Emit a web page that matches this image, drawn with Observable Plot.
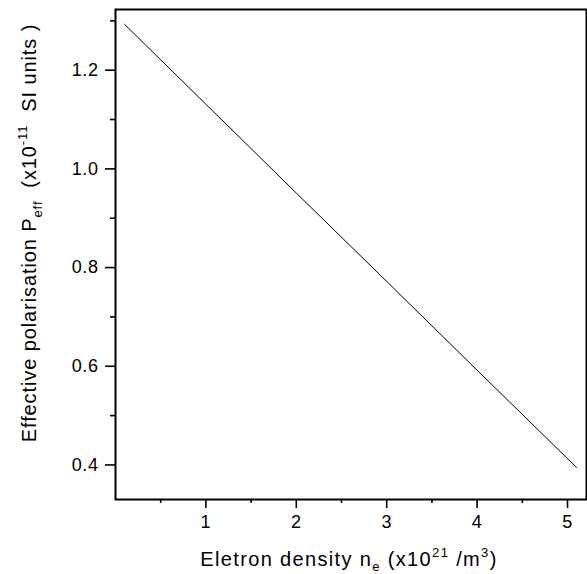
<!DOCTYPE html>
<html>
<head>
<meta charset="utf-8">
<script src="https://cdn.jsdelivr.net/npm/d3@7"></script>
<script src="https://cdn.jsdelivr.net/npm/@observablehq/plot@0.6"></script>
<style>
  html, body { margin: 0; padding: 0; background: white; }
</style>
</head>
<body>
<div id="chart"></div>
<script>
// Data
const density = [0.1, 1, 2, 3, 4, 5.1];                  // x10^21 /m^3
const polarisation = [1.293, 1.131, 0.951, 0.772, 0.592, 0.395]; // x10^-11 SI units

const xMajorTicks = [1, 2, 3, 4, 5];
const xMinorTicks = [0.5, 1.5, 2.5, 3.5, 4.5];
const yMajorTicks = [0.4, 0.6, 0.8, 1.0, 1.2];
const yMinorTicks = [0.5, 0.7, 0.9, 1.1, 1.3];

const data = density.map((d, i) => ({x: d, y: polarisation[i]}));

const fontFamily = "'Liberation Sans', Arial, Helvetica, sans-serif";

const svg = Plot.plot({
  width: 587,
  height: 574,
  marginLeft: 115,
  marginRight: 1,
  marginTop: 9,
  marginBottom: 75,
  style: {fontFamily, fontSize: "17px", color: "black", background: "white", overflow: "visible"},
  x: {domain: [0, 5.21]},
  y: {domain: [0.330, 1.323]},
  marks: [
    Plot.axisX(xMajorTicks, {tickSize: 9, tickPadding: 7, strokeWidth: 1.6, label: null, tickFormat: d => String(d)}),
    Plot.axisX(xMinorTicks, {tickSize: 4, strokeWidth: 1.6, label: null, tickFormat: () => ""}),
    Plot.axisY(yMajorTicks, {tickSize: 10, tickPadding: 7, strokeWidth: 1.6, label: null, tickFormat: d => d.toFixed(1)}),
    Plot.axisY(yMinorTicks, {tickSize: 5, strokeWidth: 1.6, label: null, tickFormat: () => ""}),
    Plot.line(data, {x: "x", y: "y", stroke: "black", strokeWidth: 1}),
    Plot.frame({stroke: "black", strokeWidth: 2})
  ]
});

const s = d3.select(svg);
// enlarge tick labels to match the reference
s.selectAll("text")
  .attr("font-size", 18)
  .style("font-size", "18px")
  .style("letter-spacing", "0.6px");

// Axis titles with sub/superscripts
const xl = s.append("text")
  .attr("x", 349).attr("y", 566)
  .attr("text-anchor", "middle")
  .attr("font-family", fontFamily)
  .attr("font-size", 20)
  .attr("letter-spacing", 1.35)
  .attr("fill", "black");
xl.append("tspan").text("Eletron density n");
xl.append("tspan").attr("font-size", 13).attr("dy", 5).text("e");
xl.append("tspan").attr("dy", -5).text(" (x10");
xl.append("tspan").attr("font-size", 13).attr("dy", -9).text("21");
xl.append("tspan").attr("dy", 9).text(" /m");
xl.append("tspan").attr("font-size", 13).attr("dy", -9).text("3");
xl.append("tspan").attr("dy", 9).text(")");

const yl = s.append("text")
  .attr("transform", "translate(36,233) rotate(-90)")
  .attr("text-anchor", "middle")
  .attr("font-family", fontFamily)
  .attr("font-size", 20)
  .attr("letter-spacing", 0.9)
  .attr("fill", "black");
yl.append("tspan").text("Effective polarisation P");
yl.append("tspan").attr("font-size", 13).attr("dy", 6).text("eff");
yl.append("tspan").attr("dy", -6).text("  (x10");
yl.append("tspan").attr("font-size", 13).attr("dy", -9).text("-11");
yl.append("tspan").attr("dy", 9).text("  SI units )");

document.getElementById("chart").appendChild(svg);
</script>
</body>
</html>
